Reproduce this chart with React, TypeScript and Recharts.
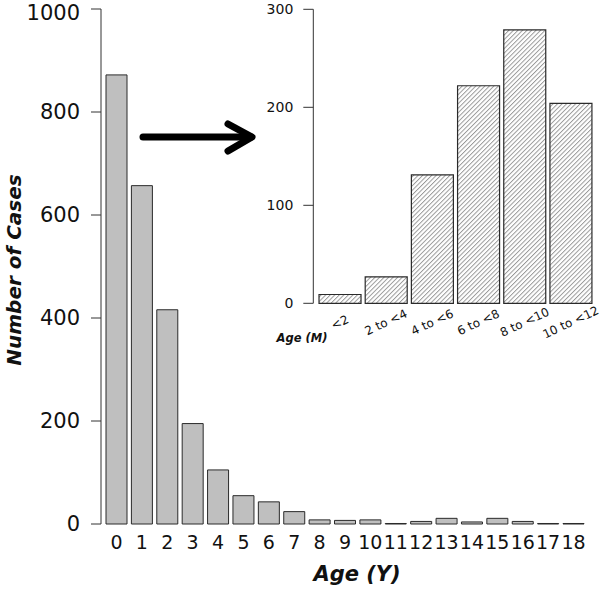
import React from 'react';
import { BarChart, Bar, XAxis, YAxis, Label } from 'recharts';

// Main histogram: cases by age in years
const ageYears = ['0', '1', '2', '3', '4', '5', '6', '7', '8', '9', '10', '11', '12', '13', '14', '15', '16', '17', '18'];
const casesByYear = [872, 657, 416, 195, 105, 55, 43, 24, 8, 7, 8, 1, 5, 11, 4, 11, 5, 1, 1];
const yearTicks = [0, 200, 400, 600, 800, 1000];

// Inset: under-one breakdown by age in months
const ageMonths = ['<2', '2 to <4', '4 to <6', '6 to <8', '8 to <10', '10 to <12'];
const casesByMonth = [9, 27, 131, 222, 279, 204];
const monthTicks = [0, 100, 200, 300];

const FONT = '"DejaVu Sans", "Liberation Sans", Arial, sans-serif';

const mainData = ageYears.map((age, i) => ({ age, cases: casesByYear[i] }));
const insetData = ageMonths.map((month, i) => ({ month, cases: casesByMonth[i] }));

function MonthTick(props: any) {
  const { x, y, payload } = props;
  const cy = y + 19;
  return (
    <text
      x={x}
      y={cy}
      transform={`rotate(-25 ${x} ${cy})`}
      textAnchor="middle"
      dominantBaseline="central"
      fontSize={12}
      fontFamily={FONT}
      fill="#111"
    >
      {payload.value}
    </text>
  );
}

export default function App() {
  return (
    <div style={{ position: 'absolute', left: 0, top: 0, width: 600, height: 590, background: '#fff' }}>
      <BarChart
        width={600}
        height={590}
        data={mainData}
        margin={{ top: 9, right: 13.8, left: 0, bottom: 0 }}
        barCategoryGap="8.7%"
      >
        <XAxis
          dataKey="age"
          interval={0}
          axisLine={false}
          tickLine={false}
          tickSize={0}
          tickMargin={12}
          height={66}
          padding={{ left: 2.8, right: 0 }}
          tick={{ fontSize: 19, fill: '#111', fontFamily: FONT }}
        >
          <Label
            content={() => (
              <text x={357} y={574} textAnchor="middle" dominantBaseline="central"
                fontSize={21} fontWeight="bold" fontStyle="italic" fontFamily={FONT} fill="#111">
                Age (Y)
              </text>
            )}
          />
        </XAxis>
        <YAxis
          domain={[0, 1000]}
          ticks={yearTicks}
          width={101}
          tickSize={10}
          tickMargin={11}
          stroke="#333"
          tick={{ fontSize: 21, fill: '#111', fontFamily: FONT }}
        >
          <Label
            content={() => (
              <text x={14} y={270} transform="rotate(-90 14 270)" textAnchor="middle" dominantBaseline="central"
                fontSize={20} fontWeight="bold" fontStyle="italic" fontFamily={FONT} fill="#111">
                Number of Cases
              </text>
            )}
          />
        </YAxis>
        <Bar dataKey="cases" fill="#bfbfbf" stroke="#2a2a2a" strokeWidth={1} isAnimationActive={false} />
      </BarChart>

      <div style={{ position: 'absolute', left: 0, top: 0 }}>
        <BarChart
          width={600}
          height={360}
          data={insetData}
          margin={{ top: 9.3, right: 6.1, left: 263, bottom: 0 }}
          barCategoryGap="4.8%"
        >
          <defs>
            <pattern id="hatch" patternUnits="userSpaceOnUse" width="3.2" height="3.2" patternTransform="rotate(45)">
              <rect width="3.2" height="3.2" fill="#fff" />
              <line x1="0.5" y1="0" x2="0.5" y2="3.2" stroke="#909090" strokeWidth="0.9" />
            </pattern>
          </defs>
          <XAxis
            dataKey="month"
            interval={0}
            axisLine={false}
            tickLine={false}
            tickSize={0}
            tickMargin={0}
            height={56.7}
            padding={{ left: 3.5, right: 0 }}
            tick={<MonthTick />}
          >
            <Label
              content={() => (
                <text x={302} y={338} textAnchor="middle" dominantBaseline="central"
                  fontSize={11.5} fontWeight="bold" fontStyle="italic" fontFamily={FONT} fill="#111">
                  Age (M)
                </text>
              )}
            />
          </XAxis>
          <YAxis
            domain={[0, 300]}
            ticks={monthTicks}
            width={50.3}
            tickSize={10}
            tickMargin={10}
            stroke="#333"
            tick={{ fontSize: 14, fill: '#111', fontFamily: FONT }}
          />
          <Bar dataKey="cases" fill="url(#hatch)" stroke="#2a2a2a" strokeWidth={1.2} isAnimationActive={false} />
        </BarChart>
      </div>

      {/* arrow pointing from the age-0 bar to the inset */}
      <svg width={600} height={590} style={{ position: 'absolute', left: 0, top: 0, pointerEvents: 'none' }}>
        <g stroke="#000" strokeWidth={7} strokeLinecap="round" strokeLinejoin="round" fill="none">
          <line x1={143} y1={137} x2={251} y2={137} />
          <polyline points="228,124 252,137 228,151" />
        </g>
      </svg>
    </div>
  );
}
